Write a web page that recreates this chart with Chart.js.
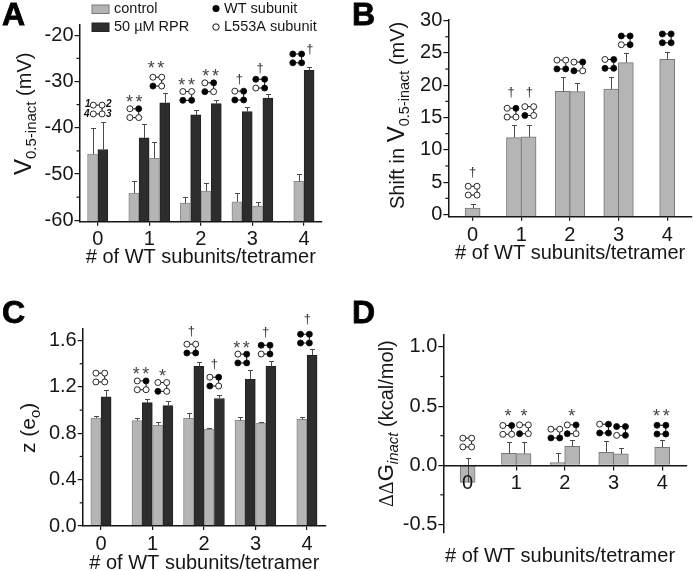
<!DOCTYPE html>
<html><head><meta charset="utf-8">
<script src="https://cdn.jsdelivr.net/npm/chart.js@4"></script>
<style>
html,body{margin:0;padding:0;background:#fff;overflow:hidden;width:694px;height:571px}
canvas{position:absolute}
</style></head><body>
<canvas id="pa" style="left:0;top:0"></canvas>
<canvas id="pb" style="left:347px;top:0"></canvas>
<canvas id="pc" style="left:0;top:285px"></canvas>
<canvas id="pd" style="left:347px;top:285px"></canvas>
<script>
// ---------- data ----------
const xCategories = [0, 1, 2, 3, 4];
const xTitleText = '# of WT subunits/tetramer';
const legendControl = 'control', legendRPR = '50 \u00B5M RPR';
const legendWT = 'WT subunit', legendL553A = 'L553A subunit';

const xControlSlots = [-0.1, 0.7, 1.1, 1.7, 2.1, 2.7, 3.1, 3.9];
const xRPRSlots     = [0.1, 0.9, 1.3, 1.9, 2.3, 2.9, 3.3, 4.1];
const xShiftSlots   = [0, 0.85, 1.15, 1.85, 2.15, 2.85, 3.15, 4];

const vControl    = [-45.7, -54.1, -46.6, -56.3, -53.7, -56.0, -57.0, -51.6];
const vControlTop = [-40.0, -51.6, -43.0, -55.0, -51.9, -54.0, -56.0, -50.0];
const vRPR        = [-44.7, -42.2, -34.6, -37.2, -34.8, -36.5, -33.6, -27.6];
const vRPRTop     = [-38.8, -39.1, -32.6, -36.1, -34.0, -35.5, -32.7, -26.8];

const shift    = [1.0, 11.9, 12.0, 19.07, 19.0, 19.4, 23.5, 24.0];
const shiftTop = [1.65, 13.8, 13.8, 21.2, 20.4, 21.2, 25.0, 25.2];

const zControl    = [0.932, 0.91, 0.869, 0.93, 0.837, 0.912, 0.889, 0.92];
const zControlTop = [0.947, 0.93, 0.895, 0.973, 0.846, 0.941, 0.895, 0.938];
const zRPR        = [1.114, 1.065, 1.039, 1.378, 1.10, 1.266, 1.378, 1.476];
const zRPRTop     = [1.171, 1.094, 1.076, 1.419, 1.128, 1.35, 1.422, 1.525];

const ddG    = [-0.144, 0.10, 0.099, 0.023, 0.16, 0.11, 0.096, 0.152];
const ddGTop = [0.062, 0.20, 0.194, 0.10, 0.21, 0.205, 0.146, 0.21];

// subunit patterns: corners 1,2,3,4 (clockwise from top left), 1 = WT (filled)
const P0=[0,0,0,0],P1a=[0,1,0,0],P1b=[0,0,0,1],P2a=[0,0,1,1],P2b=[0,1,0,1],P3a=[0,1,1,1],P3b=[1,1,1,0],P4=[1,1,1,1];

// annotations in data units of each panel
const glyphsA=[[0,-36.06,P0],[0.71,-36.85,P1a],[1.156,-30.04,P1b],[1.737,-33.12,P2a],[2.163,-31.25,P2b],[2.745,-33.05,P3a],[3.152,-30.47,P3b],[3.869,-25.02,P4]];
const marksA=[[0.71,-34.05,'**'],[1.13,-26.74,'**'],[1.724,-30.47,'**'],[2.19,-28.46,'**'],[2.745,-29.46,'\u2020'],[3.152,-27.24,'\u2020'],[4.114,-23.15,'\u2020']];
const glyphsB=[[0,3.68,P0],[0.80,15.75,P1a],[1.165,16.0,P1b],[1.824,23.2,P2a],[2.173,22.9,P2b],[2.811,23.3,P3a],[3.147,26.94,P3b],[3.991,27.25,P4]];
const marksB=[[0,6.48,'\u2020'],[0.79,18.86,'\u2020'],[1.165,18.96,'\u2020']];
const glyphsC=[[-0.013,1.281,P0],[0.79,1.214,P1a],[1.191,1.2,P1b],[1.754,1.531,P2a],[2.2,1.246,P2b],[2.744,1.445,P3a],[3.197,1.522,P3b],[3.961,1.617,P4]];
const marksC=[[0.776,1.327,'**'],[1.197,1.304,'*'],[1.754,1.683,'\u2020'],[2.2,1.396,'\u2020'],[2.73,1.548,'**'],[3.197,1.672,'\u2020'],[4.006,1.784,'\u2020']];
const glyphsD=[[-0.008,0.192,P0],[0.815,0.299,P1a],[1.158,0.304,P1b],[1.803,0.268,P2a],[2.139,0.304,P2b],[2.805,0.31,P3a],[3.154,0.29,P3b],[3.984,0.301,P4]];
const marksD=[[0.83,0.431,'*'],[1.158,0.431,'*'],[2.139,0.425,'*'],[3.984,0.425,'**']];

// ---------- style ----------
const FF='"Liberation Sans", Arial, sans-serif';
const INK='#161616', GREY='#b5b5b5', GREYB='#8b8b8b', DARK='#2d2d2d', ERR='#4a4a4a';

function toXY(xs,ys){return xs.map((x,i)=>({x:x,y:ys[i]}));}

function drawText(ctx,segs,x,y){ // rotated axis title from a bottom anchor
  ctx.save();ctx.translate(x,y);ctx.rotate(-Math.PI/2);ctx.textBaseline='alphabetic';ctx.textAlign='left';ctx.fillStyle=INK;
  let p=0;
  segs.forEach(s=>{ctx.font=s.f;ctx.fillText(s.t,p,s.d||0);p+=ctx.measureText(s.t).width;});
  ctx.restore();
}

function glyph(ctx,cx,cy,pat){
  const dx=4.4,dy=4.4,r=3;
  const c=[[cx-dx,cy-dy],[cx+dx,cy-dy],[cx+dx,cy+dy],[cx-dx,cy+dy]];
  ctx.strokeStyle='#111';ctx.lineWidth=1;
  ctx.beginPath();ctx.moveTo(c[0][0],c[0][1]);ctx.lineTo(c[1][0],c[1][1]);ctx.lineTo(c[2][0],c[2][1]);ctx.lineTo(c[3][0],c[3][1]);ctx.stroke();
  c.forEach((q,i)=>{ctx.beginPath();ctx.arc(q[0],q[1],r,0,Math.PI*2);ctx.fillStyle=pat[i]?'#000':'#fff';ctx.fill();ctx.lineWidth=0.9;ctx.stroke();});
}

function decor(spec){
  return {
    id:'decor'+spec.id,
    afterDatasetsDraw(chart){
      const ctx=chart.ctx,xS=chart.scales.x,yS=chart.scales.y;
      ctx.save();
      ctx.strokeStyle=ERR;ctx.lineWidth=1;
      spec.errors.forEach(e=>{
        e.xs.forEach((x,i)=>{
          const px=Math.round(xS.getPixelForValue(x))+0.5+(e.dx||0);
          const a=yS.getPixelForValue(e.vals[i]),b=Math.round(yS.getPixelForValue(e.tops[i]))+0.5;
          ctx.beginPath();ctx.moveTo(px,a);ctx.lineTo(px,b);ctx.moveTo(px-2.5,b);ctx.lineTo(px+2.5,b);ctx.stroke();
        });
      });
      ctx.restore();
    },
    afterDraw(chart){
      const ctx=chart.ctx,xS=chart.scales.x,yS=chart.scales.y,area=chart.chartArea;
      ctx.save();
      // minor ticks on the y axis
      ctx.strokeStyle=INK;ctx.lineWidth=1.2;
      let v=spec.minorStart;
      while(v<=yS.max+1e-9){
        const py=yS.getPixelForValue(v);
        ctx.beginPath();ctx.moveTo(area.left-3,py);ctx.lineTo(area.left,py);ctx.stroke();
        v+=spec.minorStep;
      }
      spec.glyphs.forEach(g=>glyph(ctx,xS.getPixelForValue(g[0]),yS.getPixelForValue(g[1]),g[2]));
      ctx.textAlign='center';ctx.textBaseline='middle';
      spec.marks.forEach(m=>{
        const px=xS.getPixelForValue(m[0]),py=yS.getPixelForValue(m[1]);
        if(m[2]==='\u2020'){ctx.font='13px '+FF;ctx.fillStyle='#333';ctx.fillText(m[2],px,py);}
        else{
          ctx.font='18px '+FF;ctx.fillStyle='#444';
          if(m[2]==='**'){ctx.fillText('*',px-4.8,py+2.5);ctx.fillText('*',px+4.8,py+2.5);}
          else ctx.fillText('*',px,py+2.5);
        }
      });
      // panel letter
      ctx.textAlign='left';ctx.textBaseline='alphabetic';ctx.fillStyle='#000';
      ctx.font='900 32px '+FF;
      ctx.lineWidth=0.8;ctx.strokeStyle='#000';
      ctx.fillText(spec.letter[0],spec.letter[1],spec.letter[2]);
      ctx.strokeText(spec.letter[0],spec.letter[1],spec.letter[2]);
      drawText(ctx,spec.yTitle,spec.yTitleX,spec.yTitleY);
      if(spec.after)spec.after(ctx,chart);
      ctx.restore();
    }
  };
}

function makePanel(spec){
  const W=347,H=spec.h,cv=document.getElementById(spec.id);
  cv.width=W;cv.height=H;cv.style.width=W+'px';cv.style.height=H+'px';
  const yw=40,tickFont={family:FF,size:20};
  const isD=!!spec.zeroAxis;
  new Chart(cv.getContext('2d'),{
    type:'bar',
    data:{datasets:spec.datasets},
    options:{
      responsive:false,animation:false,devicePixelRatio:1,
      layout:{padding:{left:spec.left-yw,right:W-spec.right,top:spec.top,bottom:isD?H-spec.bottom:0}},
      plugins:{legend:{display:false},tooltip:{enabled:false}},
      scales:{
        x:{
          type:'linear',min:spec.xMin,max:spec.xMax,offset:false,
          position:isD?{y:0}:'bottom',
          afterBuildTicks(s){s.ticks=xCategories.map(v=>({value:v}));},
          afterFit(s){if(!isD)s.height=H-spec.bottom;},
          border:{color:INK,width:1.5,z:1},
          grid:{display:true,offset:false,drawOnChartArea:false,drawTicks:true,tickLength:4,color:INK,lineWidth:1.2},
          ticks:{font:tickFont,color:INK,padding:spec.xPad,autoSkip:false,maxRotation:0,minRotation:0,z:1,includeBounds:false,
                 callback:v=>String(v)},
          title:{display:!isD,text:xTitleText,color:INK,font:{family:FF,size:20},padding:{top:0,bottom:H-spec.titleY-12}}
        },
        y:{
          min:spec.yMin,max:spec.yMax,
          afterFit(s){s.width=yw;},
          border:{color:INK,width:1.5,z:1},
          grid:{display:true,drawOnChartArea:false,drawTicks:true,tickLength:5,color:INK,lineWidth:1.2},
          ticks:{font:tickFont,color:INK,stepSize:spec.step,padding:1,includeBounds:false,
                 callback:spec.fmt}
        }
      }
    },
    plugins:[decor(spec)]
  });
}

const barCommon=(w,fill,bord)=>({barThickness:w,backgroundColor:fill,borderColor:bord,borderWidth:1,grouped:false});
const oneDec=v=>v.toFixed(1);

makePanel({id:'pa',h:285,left:79.5,right:322,top:25,bottom:221.7,xMin:-0.353,xMax:4.35,yMin:-60.3,yMax:-17.8,step:10,
  fmt:v=>String(v),minorStart:-55,minorStep:10,xPad:2,titleY:257,
  datasets:[
    Object.assign({data:toXY(xControlSlots,vControl),label:legendControl,base:-60.3},barCommon(10,GREY,GREYB)),
    Object.assign({data:toXY(xRPRSlots,vRPR),label:legendRPR,base:-60.3},barCommon(10,DARK,'#222'))],
  errors:[{xs:xControlSlots,vals:vControl,tops:vControlTop},{xs:xRPRSlots,vals:vRPR,tops:vRPRTop}],
  glyphs:glyphsA,marks:marksA,letter:['A',2,25],
  yTitle:[{t:'V',f:'24px '+FF},{t:'0.5-inact',f:'15px '+FF,d:5},{t:' (mV)',f:'20px '+FF}],yTitleX:31,yTitleY:175,
  after(ctx,chart){
    // legend and concatemer numbering
    ctx.textAlign='left';ctx.textBaseline='middle';ctx.font='14.5px '+FF;ctx.fillStyle=INK;
    ctx.fillText(legendControl,114,8.5);ctx.fillText(legendRPR,114,27);
    ctx.fillText(legendWT,224,8.5);ctx.fillText(legendL553A,224,27);
    ctx.fillStyle=GREY;ctx.strokeStyle='#777';ctx.lineWidth=1;ctx.fillRect(92,5,17,8.5);ctx.strokeRect(92,5,17,8.5);
    ctx.fillStyle=DARK;ctx.strokeStyle='#222';ctx.fillRect(92,23,17,8.5);ctx.strokeRect(92,23,17,8.5);
    ctx.beginPath();ctx.arc(216,8.5,3.5,0,Math.PI*2);ctx.fillStyle='#000';ctx.fill();
    ctx.beginPath();ctx.arc(216,27,3.2,0,Math.PI*2);ctx.strokeStyle='#111';ctx.stroke();
    ctx.font='italic bold 10px '+FF;ctx.fillStyle='#111';ctx.textAlign='center';
    const xS=chart.scales.x,yS=chart.scales.y,cx=xS.getPixelForValue(0),cy=yS.getPixelForValue(-36.06);
    ctx.fillText('1',cx-10,cy-5);ctx.fillText('2',cx+11,cy-5);ctx.fillText('4',cx-11,cy+5);ctx.fillText('3',cx+11,cy+5);
  }
});

makePanel({id:'pb',h:285,left:101.3,right:345,top:19.3,bottom:216.7,xMin:-0.5,xMax:4.51,yMin:-0.35,yMax:30.2,step:5,
  fmt:v=>String(v),minorStart:2.5,minorStep:5,xPad:3,titleY:253,
  datasets:[Object.assign({data:toXY(xShiftSlots,shift),label:'Shift',base:-0.35},barCommon(15,GREY,'#777'))],
  errors:[{xs:xShiftSlots,vals:shift,tops:shiftTop}],
  glyphs:glyphsB,marks:marksB,letter:['B',5,25],
  yTitle:[{t:'Shift in ',f:'20px '+FF},{t:'V',f:'24px '+FF},{t:'0.5-inact',f:'14.5px '+FF,d:5},{t:' (mV)',f:'20px '+FF}],yTitleX:56.7,yTitleY:209
});

makePanel({id:'pc',h:300,left:82.7,right:326,top:44,bottom:241,xMin:-0.355,xMax:4.37,yMin:0,yMax:1.70,step:0.4,
  fmt:oneDec,minorStart:0.2,minorStep:0.4,xPad:2,titleY:278,
  datasets:[
    Object.assign({data:toXY(xControlSlots,zControl),label:legendControl},barCommon(10,GREY,GREYB)),
    Object.assign({data:toXY(xRPRSlots,zRPR),label:legendRPR},barCommon(10,DARK,'#222'))],
  errors:[{xs:xControlSlots,vals:zControl,tops:zControlTop},{xs:xRPRSlots,vals:zRPR,tops:zRPRTop}],
  glyphs:glyphsC,marks:marksC,letter:['C',2,38],
  yTitle:[{t:'z (e',f:'21px '+FF},{t:'o',f:'15px '+FF,d:5},{t:')',f:'21px '+FF}],yTitleX:35,yTitleY:168
});

makePanel({id:'pd',h:300,zeroAxis:true,left:96.3,right:340,top:49.3,bottom:247.7,xMin:-0.5,xMax:4.51,yMin:-0.57,yMax:1.107,step:0.5,
  fmt:oneDec,minorStart:-0.25,minorStep:0.5,xPad:2,titleY:271,
  datasets:[Object.assign({data:toXY(xShiftSlots,ddG),label:'ddG',base:0},barCommon(15,GREY,'#777'))],
  errors:[{xs:xShiftSlots,vals:ddG,tops:ddGTop}],
  glyphs:glyphsD,marks:marksD,letter:['D',5,38],
  yTitle:[{t:'\u0394\u0394',f:'20px "Liberation Serif", serif'},{t:'G',f:'22px '+FF},{t:'inact',f:'italic 15px '+FF,d:5},{t:' (kcal/mol)',f:'20px '+FF}],yTitleX:45.7,yTitleY:222,
  after(ctx){
    ctx.textAlign='center';ctx.textBaseline='middle';ctx.font='20px '+FF;ctx.fillStyle=INK;
    ctx.fillText(xTitleText,213,271);
  }
});
</script>
</body></html>
